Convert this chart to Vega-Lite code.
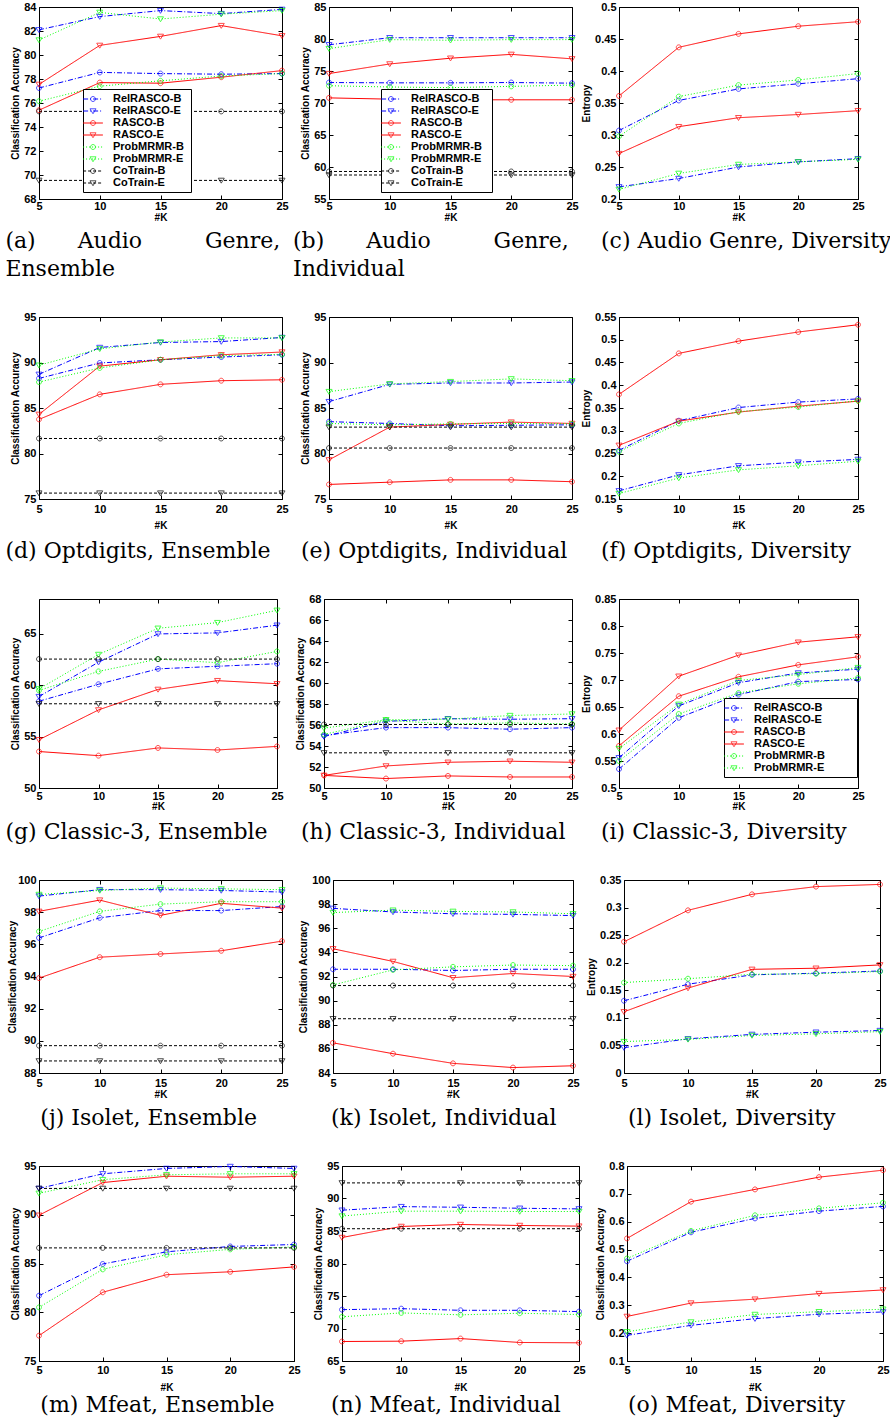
{
"$schema": "https://vega.github.io/schema/vega-lite/v6.json",
"background": "white",
"padding": {"left": 0, "top": 0, "right": 0, "bottom": 0},
"spacing": 29,
"resolve": {"scale": {"color": "independent", "strokeDash": "independent", "stroke": "independent", "shape": "independent"}, "legend": {"color": "independent", "strokeDash": "independent", "stroke": "independent", "shape": "independent"}},
"config": {
  "view": {"stroke": "black", "strokeWidth": 1},
  "axis": {"labelFont": "Liberation Sans", "labelFontWeight": "bold", "labelFontSize": 11, "labelColor": "black", "titleFont": "Liberation Sans", "titleFontWeight": "bold", "titleFontSize": 10, "titleColor": "black", "grid": false, "domain": false, "ticks": true, "tickColor": "black", "tickSize": -4, "tickWidth": 1, "labelFlush": false, "labelOverlap": false},
  "axisY": {"labelPadding": 7, "titlePadding": 3},
  "legend": {"padding": 4, "labelFont": "Liberation Sans", "labelFontWeight": "bold", "labelFontSize": 11, "labelColor": "black", "symbolSize": 121, "symbolStrokeWidth": 1, "rowPadding": 1, "labelOffset": 14, "labelLimit": 300},
  "title": {"font": "DejaVu Serif", "fontSize": 22, "fontWeight": "normal", "color": "black", "lineHeight": 28, "baseline": "top"}
},
"vconcat": [
{"hconcat": [
 {"width": 243, "height": 192, "data": {"name": "a"},
  "title": {"text": ["\u200b\u2009(a)\u00a0\u00a0\u00a0\u00a0\u00a0\u00a0Audio\u00a0\u00a0\u00a0\u00a0\u00a0\u00a0\u00a0\u00a0\u00a0Genre,", "\u200b\u2009Ensemble"], "orient": "bottom", "anchor": "start", "frame": "group", "offset": 8.6, "dx": -38},
  "layer": [
   {"mark": {"type": "line", "strokeWidth": 1},
    "encoding": {
     "x": {"field": "K", "type": "quantitative", "scale": {"domain": [5, 25], "nice": false}, "axis": {"values": [5, 10, 15, 20, 25], "title": "#K", "labelPadding": 5, "titlePadding": 1}},
     "y": {"field": "value", "type": "quantitative", "scale": {"domain": [68, 84], "nice": false, "zero": false}, "axis": {"values": [68, 70, 72, 74, 76, 78, 80, 82, 84], "format": "~r", "title": "Classification Accuracy"}},
     "color": {"field": "series", "type": "nominal", "scale": {"domain": ["RelRASCO-B", "RelRASCO-E", "RASCO-B", "RASCO-E", "ProbMRMR-B", "ProbMRMR-E", "CoTrain-B", "CoTrain-E"], "range": ["#0000ff", "#0000ff", "#ff0000", "#ff0000", "#00ff00", "#00ff00", "#000000", "#000000"]},
       "legend": {"title": null, "orient": "none", "legendX": 44, "legendY": 82, "symbolType": "M-1.8,0L1.8,0", "strokeColor": "black", "fillColor": "white", "labelExpr": "datum.label + '\u00a0\u200b'"}},
     "strokeDash": {"field": "series", "type": "nominal", "scale": {"domain": ["RelRASCO-B", "RelRASCO-E", "RASCO-B", "RASCO-E", "ProbMRMR-B", "ProbMRMR-E", "CoTrain-B", "CoTrain-E"], "range": [[5, 2, 1, 2], [5, 2, 1, 2], [1, 0], [1, 0], [1, 2], [1, 2], [3, 2], [3, 2]]},
       "legend": {"title": null, "orient": "none", "legendX": 44, "legendY": 82, "symbolType": "M-1.8,0L1.8,0", "strokeColor": "black", "fillColor": "white", "labelExpr": "datum.label + '\u00a0\u200b'"}}
    }},
   {"mark": {"type": "point", "filled": false, "strokeWidth": 1, "size": 121},
    "encoding": {
     "x": {"field": "K", "type": "quantitative", "axis": {"orient": "top", "values": [5, 10, 15, 20, 25], "labels": false, "title": null}},
     "y": {"field": "value", "type": "quantitative", "axis": {"orient": "right", "values": [68, 70, 72, 74, 76, 78, 80, 82, 84], "labels": false, "title": null}},
     "stroke": {"field": "series", "type": "nominal", "scale": {"domain": ["RelRASCO-B", "RelRASCO-E", "RASCO-B", "RASCO-E", "ProbMRMR-B", "ProbMRMR-E", "CoTrain-B", "CoTrain-E", " "], "range": ["#0000ff", "#0000ff", "#ff0000", "#ff0000", "#00ff00", "#00ff00", "#000000", "#000000", "transparent"]},
       "legend": {"title": null, "orient": "none", "legendX": 44, "legendY": 82, "labelExpr": "''", "strokeColor": "transparent", "fillColor": "transparent"}},
     "shape": {"field": "series", "type": "nominal", "scale": {"domain": ["RelRASCO-B", "RelRASCO-E", "RASCO-B", "RASCO-E", "ProbMRMR-B", "ProbMRMR-E", "CoTrain-B", "CoTrain-E", " "], "range": ["M0.45,0A0.45,0.45,0,1,1,-0.45,0A0.45,0.45,0,1,1,0.45,0", "M-0.55,-0.4L0.55,-0.4L0,0.5Z", "M0.45,0A0.45,0.45,0,1,1,-0.45,0A0.45,0.45,0,1,1,0.45,0", "M-0.55,-0.4L0.55,-0.4L0,0.5Z", "M0.45,0A0.45,0.45,0,1,1,-0.45,0A0.45,0.45,0,1,1,0.45,0", "M-0.55,-0.4L0.55,-0.4L0,0.5Z", "M0.45,0A0.45,0.45,0,1,1,-0.45,0A0.45,0.45,0,1,1,0.45,0", "M-0.55,-0.4L0.55,-0.4L0,0.5Z", "M0,0"]},
       "legend": {"title": null, "orient": "none", "legendX": 44, "legendY": 82, "labelExpr": "''", "strokeColor": "transparent", "fillColor": "transparent"}}
    }}
  ],
  "resolve": {"axis": {"x": "independent", "y": "independent"}}
 },
 {"width": 243, "height": 192, "data": {"name": "b"},
  "title": {"text": ["(b)\u00a0\u00a0\u00a0\u00a0\u00a0\u00a0Audio\u00a0\u00a0\u00a0\u00a0\u00a0\u00a0\u00a0\u00a0\u00a0Genre,", "Individual"], "orient": "bottom", "anchor": "start", "frame": "group", "offset": 8.6, "dx": -36},
  "layer": [
   {"mark": {"type": "line", "strokeWidth": 1},
    "encoding": {
     "x": {"field": "K", "type": "quantitative", "scale": {"domain": [5, 25], "nice": false}, "axis": {"values": [5, 10, 15, 20, 25], "title": "#K", "labelPadding": 5, "titlePadding": 1}},
     "y": {"field": "value", "type": "quantitative", "scale": {"domain": [55, 85], "nice": false, "zero": false}, "axis": {"values": [55, 60, 65, 70, 75, 80, 85], "format": "~r", "title": "Classification Accuracy"}},
     "color": {"field": "series", "type": "nominal", "scale": {"domain": ["RelRASCO-B", "RelRASCO-E", "RASCO-B", "RASCO-E", "ProbMRMR-B", "ProbMRMR-E", "CoTrain-B", "CoTrain-E"], "range": ["#0000ff", "#0000ff", "#ff0000", "#ff0000", "#00ff00", "#00ff00", "#000000", "#000000"]},
       "legend": {"title": null, "orient": "none", "legendX": 52, "legendY": 82, "symbolType": "M-1.8,0L1.8,0", "strokeColor": "black", "fillColor": "white", "labelExpr": "datum.label + '\u00a0\u00a0\u200b'"}},
     "strokeDash": {"field": "series", "type": "nominal", "scale": {"domain": ["RelRASCO-B", "RelRASCO-E", "RASCO-B", "RASCO-E", "ProbMRMR-B", "ProbMRMR-E", "CoTrain-B", "CoTrain-E"], "range": [[5, 2, 1, 2], [5, 2, 1, 2], [1, 0], [1, 0], [1, 2], [1, 2], [3, 2], [3, 2]]},
       "legend": {"title": null, "orient": "none", "legendX": 52, "legendY": 82, "symbolType": "M-1.8,0L1.8,0", "strokeColor": "black", "fillColor": "white", "labelExpr": "datum.label + '\u00a0\u00a0\u200b'"}}
    }},
   {"mark": {"type": "point", "filled": false, "strokeWidth": 1, "size": 121},
    "encoding": {
     "x": {"field": "K", "type": "quantitative", "axis": {"orient": "top", "values": [5, 10, 15, 20, 25], "labels": false, "title": null}},
     "y": {"field": "value", "type": "quantitative", "axis": {"orient": "right", "values": [55, 60, 65, 70, 75, 80, 85], "labels": false, "title": null}},
     "stroke": {"field": "series", "type": "nominal", "scale": {"domain": ["RelRASCO-B", "RelRASCO-E", "RASCO-B", "RASCO-E", "ProbMRMR-B", "ProbMRMR-E", "CoTrain-B", "CoTrain-E", " "], "range": ["#0000ff", "#0000ff", "#ff0000", "#ff0000", "#00ff00", "#00ff00", "#000000", "#000000", "transparent"]},
       "legend": {"title": null, "orient": "none", "legendX": 52, "legendY": 82, "labelExpr": "''", "strokeColor": "transparent", "fillColor": "transparent"}},
     "shape": {"field": "series", "type": "nominal", "scale": {"domain": ["RelRASCO-B", "RelRASCO-E", "RASCO-B", "RASCO-E", "ProbMRMR-B", "ProbMRMR-E", "CoTrain-B", "CoTrain-E", " "], "range": ["M0.45,0A0.45,0.45,0,1,1,-0.45,0A0.45,0.45,0,1,1,0.45,0", "M-0.55,-0.4L0.55,-0.4L0,0.5Z", "M0.45,0A0.45,0.45,0,1,1,-0.45,0A0.45,0.45,0,1,1,0.45,0", "M-0.55,-0.4L0.55,-0.4L0,0.5Z", "M0.45,0A0.45,0.45,0,1,1,-0.45,0A0.45,0.45,0,1,1,0.45,0", "M-0.55,-0.4L0.55,-0.4L0,0.5Z", "M0.45,0A0.45,0.45,0,1,1,-0.45,0A0.45,0.45,0,1,1,0.45,0", "M-0.55,-0.4L0.55,-0.4L0,0.5Z", "M0,0"]},
       "legend": {"title": null, "orient": "none", "legendX": 52, "legendY": 82, "labelExpr": "''", "strokeColor": "transparent", "fillColor": "transparent"}}
    }}
  ],
  "resolve": {"axis": {"x": "independent", "y": "independent"}}
 },
 {"width": 239, "height": 192, "data": {"name": "c"},
  "title": {"text": "(c) Audio Genre, Diversity", "orient": "bottom", "anchor": "start", "frame": "group", "offset": 8.6, "dx": -18},
  "layer": [
   {"mark": {"type": "line", "strokeWidth": 1},
    "encoding": {
     "x": {"field": "K", "type": "quantitative", "scale": {"domain": [5, 25], "nice": false}, "axis": {"values": [5, 10, 15, 20, 25], "title": "#K", "labelPadding": 5, "titlePadding": 1}},
     "y": {"field": "value", "type": "quantitative", "scale": {"domain": [0.2, 0.5], "nice": false, "zero": false}, "axis": {"values": [0.2, 0.25, 0.3, 0.35, 0.4, 0.45, 0.5], "format": "~r", "title": "Entropy"}},
     "color": {"field": "series", "type": "nominal", "scale": {"domain": ["RelRASCO-B", "RelRASCO-E", "RASCO-B", "RASCO-E", "ProbMRMR-B", "ProbMRMR-E"], "range": ["#0000ff", "#0000ff", "#ff0000", "#ff0000", "#00ff00", "#00ff00"]}, "legend": null},
     "strokeDash": {"field": "series", "type": "nominal", "scale": {"domain": ["RelRASCO-B", "RelRASCO-E", "RASCO-B", "RASCO-E", "ProbMRMR-B", "ProbMRMR-E"], "range": [[5, 2, 1, 2], [5, 2, 1, 2], [1, 0], [1, 0], [1, 2], [1, 2]]}, "legend": null}
    }},
   {"mark": {"type": "point", "filled": false, "strokeWidth": 1, "size": 121},
    "encoding": {
     "x": {"field": "K", "type": "quantitative", "axis": {"orient": "top", "values": [5, 10, 15, 20, 25], "labels": false, "title": null}},
     "y": {"field": "value", "type": "quantitative", "axis": {"orient": "right", "values": [0.2, 0.25, 0.3, 0.35, 0.4, 0.45, 0.5], "labels": false, "title": null}},
     "stroke": {"field": "series", "type": "nominal", "scale": {"domain": ["RelRASCO-B", "RelRASCO-E", "RASCO-B", "RASCO-E", "ProbMRMR-B", "ProbMRMR-E"], "range": ["#0000ff", "#0000ff", "#ff0000", "#ff0000", "#00ff00", "#00ff00"]}, "legend": null},
     "shape": {"field": "series", "type": "nominal", "scale": {"domain": ["RelRASCO-B", "RelRASCO-E", "RASCO-B", "RASCO-E", "ProbMRMR-B", "ProbMRMR-E"], "range": ["M0.45,0A0.45,0.45,0,1,1,-0.45,0A0.45,0.45,0,1,1,0.45,0", "M-0.55,-0.4L0.55,-0.4L0,0.5Z", "M0.45,0A0.45,0.45,0,1,1,-0.45,0A0.45,0.45,0,1,1,0.45,0", "M-0.55,-0.4L0.55,-0.4L0,0.5Z", "M0.45,0A0.45,0.45,0,1,1,-0.45,0A0.45,0.45,0,1,1,0.45,0", "M-0.55,-0.4L0.55,-0.4L0,0.5Z"]}, "legend": null}
    }}
  ],
  "resolve": {"axis": {"x": "independent", "y": "independent"}}
 }
], "spacing": 47, "bounds": "flush",
 "resolve": {"scale": {"color": "independent", "strokeDash": "independent", "stroke": "independent", "shape": "independent"}, "legend": {"color": "independent", "strokeDash": "independent", "stroke": "independent", "shape": "independent"}}},

{"hconcat": [
 {"width": 243, "height": 182, "data": {"name": "d"},
  "title": {"text": "\u200b\u2009(d) Optdigits, Ensemble", "orient": "bottom", "anchor": "start", "frame": "group", "offset": 10.6, "dx": -38},
  "layer": [
   {"mark": {"type": "line", "strokeWidth": 1},
    "encoding": {
     "x": {"field": "K", "type": "quantitative", "scale": {"domain": [5, 25], "nice": false}, "axis": {"values": [5, 10, 15, 20, 25], "title": "#K", "labelPadding": 8.5, "titlePadding": 5.5}},
     "y": {"field": "value", "type": "quantitative", "scale": {"domain": [75, 95], "nice": false, "zero": false}, "axis": {"values": [75, 80, 85, 90, 95], "format": "~r", "title": "Classification Accuracy"}},
     "color": {"field": "series", "type": "nominal", "scale": {"domain": ["RelRASCO-B", "RelRASCO-E", "RASCO-B", "RASCO-E", "ProbMRMR-B", "ProbMRMR-E", "CoTrain-B", "CoTrain-E"], "range": ["#0000ff", "#0000ff", "#ff0000", "#ff0000", "#00ff00", "#00ff00", "#000000", "#000000"]}, "legend": null},
     "strokeDash": {"field": "series", "type": "nominal", "scale": {"domain": ["RelRASCO-B", "RelRASCO-E", "RASCO-B", "RASCO-E", "ProbMRMR-B", "ProbMRMR-E", "CoTrain-B", "CoTrain-E"], "range": [[5, 2, 1, 2], [5, 2, 1, 2], [1, 0], [1, 0], [1, 2], [1, 2], [3, 2], [3, 2]]}, "legend": null}
    }},
   {"mark": {"type": "point", "filled": false, "strokeWidth": 1, "size": 121},
    "encoding": {
     "x": {"field": "K", "type": "quantitative", "axis": {"orient": "top", "values": [5, 10, 15, 20, 25], "labels": false, "title": null}},
     "y": {"field": "value", "type": "quantitative", "axis": {"orient": "right", "values": [75, 80, 85, 90, 95], "labels": false, "title": null}},
     "stroke": {"field": "series", "type": "nominal", "scale": {"domain": ["RelRASCO-B", "RelRASCO-E", "RASCO-B", "RASCO-E", "ProbMRMR-B", "ProbMRMR-E", "CoTrain-B", "CoTrain-E"], "range": ["#0000ff", "#0000ff", "#ff0000", "#ff0000", "#00ff00", "#00ff00", "#000000", "#000000"]}, "legend": null},
     "shape": {"field": "series", "type": "nominal", "scale": {"domain": ["RelRASCO-B", "RelRASCO-E", "RASCO-B", "RASCO-E", "ProbMRMR-B", "ProbMRMR-E", "CoTrain-B", "CoTrain-E"], "range": ["M0.45,0A0.45,0.45,0,1,1,-0.45,0A0.45,0.45,0,1,1,0.45,0", "M-0.55,-0.4L0.55,-0.4L0,0.5Z", "M0.45,0A0.45,0.45,0,1,1,-0.45,0A0.45,0.45,0,1,1,0.45,0", "M-0.55,-0.4L0.55,-0.4L0,0.5Z", "M0.45,0A0.45,0.45,0,1,1,-0.45,0A0.45,0.45,0,1,1,0.45,0", "M-0.55,-0.4L0.55,-0.4L0,0.5Z", "M0.45,0A0.45,0.45,0,1,1,-0.45,0A0.45,0.45,0,1,1,0.45,0", "M-0.55,-0.4L0.55,-0.4L0,0.5Z"]}, "legend": null}
    }}
  ],
  "resolve": {"axis": {"x": "independent", "y": "independent"}}
 },
 {"width": 243, "height": 182, "data": {"name": "e"},
  "title": {"text": "(e) Optdigits, Individual", "orient": "bottom", "anchor": "start", "frame": "group", "offset": 10.6, "dx": -28},
  "layer": [
   {"mark": {"type": "line", "strokeWidth": 1},
    "encoding": {
     "x": {"field": "K", "type": "quantitative", "scale": {"domain": [5, 25], "nice": false}, "axis": {"values": [5, 10, 15, 20, 25], "title": "#K", "labelPadding": 8.5, "titlePadding": 5.5}},
     "y": {"field": "value", "type": "quantitative", "scale": {"domain": [75, 95], "nice": false, "zero": false}, "axis": {"values": [75, 80, 85, 90, 95], "format": "~r", "title": "Classification Accuracy"}},
     "color": {"field": "series", "type": "nominal", "scale": {"domain": ["RelRASCO-B", "RelRASCO-E", "RASCO-B", "RASCO-E", "ProbMRMR-B", "ProbMRMR-E", "CoTrain-B", "CoTrain-E"], "range": ["#0000ff", "#0000ff", "#ff0000", "#ff0000", "#00ff00", "#00ff00", "#000000", "#000000"]}, "legend": null},
     "strokeDash": {"field": "series", "type": "nominal", "scale": {"domain": ["RelRASCO-B", "RelRASCO-E", "RASCO-B", "RASCO-E", "ProbMRMR-B", "ProbMRMR-E", "CoTrain-B", "CoTrain-E"], "range": [[5, 2, 1, 2], [5, 2, 1, 2], [1, 0], [1, 0], [1, 2], [1, 2], [3, 2], [3, 2]]}, "legend": null}
    }},
   {"mark": {"type": "point", "filled": false, "strokeWidth": 1, "size": 121},
    "encoding": {
     "x": {"field": "K", "type": "quantitative", "axis": {"orient": "top", "values": [5, 10, 15, 20, 25], "labels": false, "title": null}},
     "y": {"field": "value", "type": "quantitative", "axis": {"orient": "right", "values": [75, 80, 85, 90, 95], "labels": false, "title": null}},
     "stroke": {"field": "series", "type": "nominal", "scale": {"domain": ["RelRASCO-B", "RelRASCO-E", "RASCO-B", "RASCO-E", "ProbMRMR-B", "ProbMRMR-E", "CoTrain-B", "CoTrain-E"], "range": ["#0000ff", "#0000ff", "#ff0000", "#ff0000", "#00ff00", "#00ff00", "#000000", "#000000"]}, "legend": null},
     "shape": {"field": "series", "type": "nominal", "scale": {"domain": ["RelRASCO-B", "RelRASCO-E", "RASCO-B", "RASCO-E", "ProbMRMR-B", "ProbMRMR-E", "CoTrain-B", "CoTrain-E"], "range": ["M0.45,0A0.45,0.45,0,1,1,-0.45,0A0.45,0.45,0,1,1,0.45,0", "M-0.55,-0.4L0.55,-0.4L0,0.5Z", "M0.45,0A0.45,0.45,0,1,1,-0.45,0A0.45,0.45,0,1,1,0.45,0", "M-0.55,-0.4L0.55,-0.4L0,0.5Z", "M0.45,0A0.45,0.45,0,1,1,-0.45,0A0.45,0.45,0,1,1,0.45,0", "M-0.55,-0.4L0.55,-0.4L0,0.5Z", "M0.45,0A0.45,0.45,0,1,1,-0.45,0A0.45,0.45,0,1,1,0.45,0", "M-0.55,-0.4L0.55,-0.4L0,0.5Z"]}, "legend": null}
    }}
  ],
  "resolve": {"axis": {"x": "independent", "y": "independent"}}
 },
 {"width": 239, "height": 182, "data": {"name": "f"},
  "title": {"text": "(f) Optdigits, Diversity", "orient": "bottom", "anchor": "start", "frame": "group", "offset": 10.6, "dx": -18},
  "layer": [
   {"mark": {"type": "line", "strokeWidth": 1},
    "encoding": {
     "x": {"field": "K", "type": "quantitative", "scale": {"domain": [5, 25], "nice": false}, "axis": {"values": [5, 10, 15, 20, 25], "title": "#K", "labelPadding": 8.5, "titlePadding": 5.5}},
     "y": {"field": "value", "type": "quantitative", "scale": {"domain": [0.15, 0.55], "nice": false, "zero": false}, "axis": {"values": [0.15, 0.2, 0.25, 0.3, 0.35, 0.4, 0.45, 0.5, 0.55], "format": "~r", "title": "Entropy"}},
     "color": {"field": "series", "type": "nominal", "scale": {"domain": ["RelRASCO-B", "RelRASCO-E", "RASCO-B", "RASCO-E", "ProbMRMR-B", "ProbMRMR-E"], "range": ["#0000ff", "#0000ff", "#ff0000", "#ff0000", "#00ff00", "#00ff00"]}, "legend": null},
     "strokeDash": {"field": "series", "type": "nominal", "scale": {"domain": ["RelRASCO-B", "RelRASCO-E", "RASCO-B", "RASCO-E", "ProbMRMR-B", "ProbMRMR-E"], "range": [[5, 2, 1, 2], [5, 2, 1, 2], [1, 0], [1, 0], [1, 2], [1, 2]]}, "legend": null}
    }},
   {"mark": {"type": "point", "filled": false, "strokeWidth": 1, "size": 121},
    "encoding": {
     "x": {"field": "K", "type": "quantitative", "axis": {"orient": "top", "values": [5, 10, 15, 20, 25], "labels": false, "title": null}},
     "y": {"field": "value", "type": "quantitative", "axis": {"orient": "right", "values": [0.15, 0.2, 0.25, 0.3, 0.35, 0.4, 0.45, 0.5, 0.55], "labels": false, "title": null}},
     "stroke": {"field": "series", "type": "nominal", "scale": {"domain": ["RelRASCO-B", "RelRASCO-E", "RASCO-B", "RASCO-E", "ProbMRMR-B", "ProbMRMR-E"], "range": ["#0000ff", "#0000ff", "#ff0000", "#ff0000", "#00ff00", "#00ff00"]}, "legend": null},
     "shape": {"field": "series", "type": "nominal", "scale": {"domain": ["RelRASCO-B", "RelRASCO-E", "RASCO-B", "RASCO-E", "ProbMRMR-B", "ProbMRMR-E"], "range": ["M0.45,0A0.45,0.45,0,1,1,-0.45,0A0.45,0.45,0,1,1,0.45,0", "M-0.55,-0.4L0.55,-0.4L0,0.5Z", "M0.45,0A0.45,0.45,0,1,1,-0.45,0A0.45,0.45,0,1,1,0.45,0", "M-0.55,-0.4L0.55,-0.4L0,0.5Z", "M0.45,0A0.45,0.45,0,1,1,-0.45,0A0.45,0.45,0,1,1,0.45,0", "M-0.55,-0.4L0.55,-0.4L0,0.5Z"]}, "legend": null}
    }}
  ],
  "resolve": {"axis": {"x": "independent", "y": "independent"}}
 }
], "spacing": 47, "bounds": "flush",
 "resolve": {"scale": {"color": "independent", "strokeDash": "independent", "stroke": "independent", "shape": "independent"}, "legend": {"color": "independent", "strokeDash": "independent", "stroke": "independent", "shape": "independent"}}},

{"hconcat": [
 {"width": 238, "height": 189, "data": {"name": "g"},
  "title": {"text": "\u200b\u2009(g) Classic-3, Ensemble", "orient": "bottom", "anchor": "start", "frame": "group", "offset": 10.1, "dx": -38},
  "layer": [
   {"mark": {"type": "line", "strokeWidth": 1},
    "encoding": {
     "x": {"field": "K", "type": "quantitative", "scale": {"domain": [5, 25], "nice": false}, "axis": {"values": [5, 10, 15, 20, 25], "title": "#K", "labelPadding": 6.5, "titlePadding": 0}},
     "y": {"field": "value", "type": "quantitative", "scale": {"domain": [50, 68.4], "nice": false, "zero": false}, "axis": {"values": [50, 55, 60, 65], "format": "~r", "title": "Classification Accuracy"}},
     "color": {"field": "series", "type": "nominal", "scale": {"domain": ["RelRASCO-B", "RelRASCO-E", "RASCO-B", "RASCO-E", "ProbMRMR-B", "ProbMRMR-E", "CoTrain-B", "CoTrain-E"], "range": ["#0000ff", "#0000ff", "#ff0000", "#ff0000", "#00ff00", "#00ff00", "#000000", "#000000"]}, "legend": null},
     "strokeDash": {"field": "series", "type": "nominal", "scale": {"domain": ["RelRASCO-B", "RelRASCO-E", "RASCO-B", "RASCO-E", "ProbMRMR-B", "ProbMRMR-E", "CoTrain-B", "CoTrain-E"], "range": [[5, 2, 1, 2], [5, 2, 1, 2], [1, 0], [1, 0], [1, 2], [1, 2], [3, 2], [3, 2]]}, "legend": null}
    }},
   {"mark": {"type": "point", "filled": false, "strokeWidth": 1, "size": 121},
    "encoding": {
     "x": {"field": "K", "type": "quantitative", "axis": {"orient": "top", "values": [5, 10, 15, 20, 25], "labels": false, "title": null}},
     "y": {"field": "value", "type": "quantitative", "axis": {"orient": "right", "values": [50, 55, 60, 65], "labels": false, "title": null}},
     "stroke": {"field": "series", "type": "nominal", "scale": {"domain": ["RelRASCO-B", "RelRASCO-E", "RASCO-B", "RASCO-E", "ProbMRMR-B", "ProbMRMR-E", "CoTrain-B", "CoTrain-E"], "range": ["#0000ff", "#0000ff", "#ff0000", "#ff0000", "#00ff00", "#00ff00", "#000000", "#000000"]}, "legend": null},
     "shape": {"field": "series", "type": "nominal", "scale": {"domain": ["RelRASCO-B", "RelRASCO-E", "RASCO-B", "RASCO-E", "ProbMRMR-B", "ProbMRMR-E", "CoTrain-B", "CoTrain-E"], "range": ["M0.45,0A0.45,0.45,0,1,1,-0.45,0A0.45,0.45,0,1,1,0.45,0", "M-0.55,-0.4L0.55,-0.4L0,0.5Z", "M0.45,0A0.45,0.45,0,1,1,-0.45,0A0.45,0.45,0,1,1,0.45,0", "M-0.55,-0.4L0.55,-0.4L0,0.5Z", "M0.45,0A0.45,0.45,0,1,1,-0.45,0A0.45,0.45,0,1,1,0.45,0", "M-0.55,-0.4L0.55,-0.4L0,0.5Z", "M0.45,0A0.45,0.45,0,1,1,-0.45,0A0.45,0.45,0,1,1,0.45,0", "M-0.55,-0.4L0.55,-0.4L0,0.5Z"]}, "legend": null}
    }}
  ],
  "resolve": {"axis": {"x": "independent", "y": "independent"}}
 },
 {"width": 248, "height": 189, "data": {"name": "h"},
  "title": {"text": "(h) Classic-3, Individual", "orient": "bottom", "anchor": "start", "frame": "group", "offset": 10.1, "dx": -23},
  "layer": [
   {"mark": {"type": "line", "strokeWidth": 1},
    "encoding": {
     "x": {"field": "K", "type": "quantitative", "scale": {"domain": [5, 25], "nice": false}, "axis": {"values": [5, 10, 15, 20, 25], "title": "#K", "labelPadding": 6.5, "titlePadding": 0}},
     "y": {"field": "value", "type": "quantitative", "scale": {"domain": [50, 68], "nice": false, "zero": false}, "axis": {"values": [50, 52, 54, 56, 58, 60, 62, 64, 66, 68], "format": "~r", "title": "Classification Accuracy"}},
     "color": {"field": "series", "type": "nominal", "scale": {"domain": ["RelRASCO-B", "RelRASCO-E", "RASCO-B", "RASCO-E", "ProbMRMR-B", "ProbMRMR-E", "CoTrain-B", "CoTrain-E"], "range": ["#0000ff", "#0000ff", "#ff0000", "#ff0000", "#00ff00", "#00ff00", "#000000", "#000000"]}, "legend": null},
     "strokeDash": {"field": "series", "type": "nominal", "scale": {"domain": ["RelRASCO-B", "RelRASCO-E", "RASCO-B", "RASCO-E", "ProbMRMR-B", "ProbMRMR-E", "CoTrain-B", "CoTrain-E"], "range": [[5, 2, 1, 2], [5, 2, 1, 2], [1, 0], [1, 0], [1, 2], [1, 2], [3, 2], [3, 2]]}, "legend": null}
    }},
   {"mark": {"type": "point", "filled": false, "strokeWidth": 1, "size": 121},
    "encoding": {
     "x": {"field": "K", "type": "quantitative", "axis": {"orient": "top", "values": [5, 10, 15, 20, 25], "labels": false, "title": null}},
     "y": {"field": "value", "type": "quantitative", "axis": {"orient": "right", "values": [50, 52, 54, 56, 58, 60, 62, 64, 66, 68], "labels": false, "title": null}},
     "stroke": {"field": "series", "type": "nominal", "scale": {"domain": ["RelRASCO-B", "RelRASCO-E", "RASCO-B", "RASCO-E", "ProbMRMR-B", "ProbMRMR-E", "CoTrain-B", "CoTrain-E"], "range": ["#0000ff", "#0000ff", "#ff0000", "#ff0000", "#00ff00", "#00ff00", "#000000", "#000000"]}, "legend": null},
     "shape": {"field": "series", "type": "nominal", "scale": {"domain": ["RelRASCO-B", "RelRASCO-E", "RASCO-B", "RASCO-E", "ProbMRMR-B", "ProbMRMR-E", "CoTrain-B", "CoTrain-E"], "range": ["M0.45,0A0.45,0.45,0,1,1,-0.45,0A0.45,0.45,0,1,1,0.45,0", "M-0.55,-0.4L0.55,-0.4L0,0.5Z", "M0.45,0A0.45,0.45,0,1,1,-0.45,0A0.45,0.45,0,1,1,0.45,0", "M-0.55,-0.4L0.55,-0.4L0,0.5Z", "M0.45,0A0.45,0.45,0,1,1,-0.45,0A0.45,0.45,0,1,1,0.45,0", "M-0.55,-0.4L0.55,-0.4L0,0.5Z", "M0.45,0A0.45,0.45,0,1,1,-0.45,0A0.45,0.45,0,1,1,0.45,0", "M-0.55,-0.4L0.55,-0.4L0,0.5Z"]}, "legend": null}
    }}
  ],
  "resolve": {"axis": {"x": "independent", "y": "independent"}}
 },
 {"width": 239, "height": 189, "data": {"name": "i"},
  "title": {"text": "(i) Classic-3, Diversity", "orient": "bottom", "anchor": "start", "frame": "group", "offset": 10.1, "dx": -18},
  "layer": [
   {"mark": {"type": "line", "strokeWidth": 1},
    "encoding": {
     "x": {"field": "K", "type": "quantitative", "scale": {"domain": [5, 25], "nice": false}, "axis": {"values": [5, 10, 15, 20, 25], "title": "#K", "labelPadding": 6.5, "titlePadding": 0}},
     "y": {"field": "value", "type": "quantitative", "scale": {"domain": [0.5, 0.85], "nice": false, "zero": false}, "axis": {"values": [0.5, 0.55, 0.6, 0.65, 0.7, 0.75, 0.8, 0.85], "format": "~r", "title": "Entropy"}},
     "color": {"field": "series", "type": "nominal", "scale": {"domain": ["RelRASCO-B", "RelRASCO-E", "RASCO-B", "RASCO-E", "ProbMRMR-B", "ProbMRMR-E"], "range": ["#0000ff", "#0000ff", "#ff0000", "#ff0000", "#00ff00", "#00ff00"]},
       "legend": {"title": null, "orient": "none", "legendX": 105, "legendY": 99, "symbolType": "M-1.8,0L1.8,0", "strokeColor": "black", "fillColor": "white", "labelExpr": "datum.label + '\u00a0\u00a0\u00a0\u00a0\u00a0\u00a0\u00a0\u00a0\u00a0\u200b'"}},
     "strokeDash": {"field": "series", "type": "nominal", "scale": {"domain": ["RelRASCO-B", "RelRASCO-E", "RASCO-B", "RASCO-E", "ProbMRMR-B", "ProbMRMR-E"], "range": [[5, 2, 1, 2], [5, 2, 1, 2], [1, 0], [1, 0], [1, 2], [1, 2]]},
       "legend": {"title": null, "orient": "none", "legendX": 105, "legendY": 99, "symbolType": "M-1.8,0L1.8,0", "strokeColor": "black", "fillColor": "white", "labelExpr": "datum.label + '\u00a0\u00a0\u00a0\u00a0\u00a0\u00a0\u00a0\u00a0\u00a0\u200b'"}}
    }},
   {"mark": {"type": "point", "filled": false, "strokeWidth": 1, "size": 121},
    "encoding": {
     "x": {"field": "K", "type": "quantitative", "axis": {"orient": "top", "values": [5, 10, 15, 20, 25], "labels": false, "title": null}},
     "y": {"field": "value", "type": "quantitative", "axis": {"orient": "right", "values": [0.5, 0.55, 0.6, 0.65, 0.7, 0.75, 0.8, 0.85], "labels": false, "title": null}},
     "stroke": {"field": "series", "type": "nominal", "scale": {"domain": ["RelRASCO-B", "RelRASCO-E", "RASCO-B", "RASCO-E", "ProbMRMR-B", "ProbMRMR-E", " "], "range": ["#0000ff", "#0000ff", "#ff0000", "#ff0000", "#00ff00", "#00ff00", "transparent"]},
       "legend": {"title": null, "orient": "none", "legendX": 105, "legendY": 99, "labelExpr": "''", "strokeColor": "transparent", "fillColor": "transparent"}},
     "shape": {"field": "series", "type": "nominal", "scale": {"domain": ["RelRASCO-B", "RelRASCO-E", "RASCO-B", "RASCO-E", "ProbMRMR-B", "ProbMRMR-E", " "], "range": ["M0.45,0A0.45,0.45,0,1,1,-0.45,0A0.45,0.45,0,1,1,0.45,0", "M-0.55,-0.4L0.55,-0.4L0,0.5Z", "M0.45,0A0.45,0.45,0,1,1,-0.45,0A0.45,0.45,0,1,1,0.45,0", "M-0.55,-0.4L0.55,-0.4L0,0.5Z", "M0.45,0A0.45,0.45,0,1,1,-0.45,0A0.45,0.45,0,1,1,0.45,0", "M-0.55,-0.4L0.55,-0.4L0,0.5Z", "M0,0"]},
       "legend": {"title": null, "orient": "none", "legendX": 105, "legendY": 99, "labelExpr": "''", "strokeColor": "transparent", "fillColor": "transparent"}}
    }}
  ],
  "resolve": {"axis": {"x": "independent", "y": "independent"}}
 }
], "spacing": 47, "bounds": "flush",
 "resolve": {"scale": {"color": "independent", "strokeDash": "independent", "stroke": "independent", "shape": "independent"}, "legend": {"color": "independent", "strokeDash": "independent", "stroke": "independent", "shape": "independent"}}},

{"hconcat": [
 {"width": 243, "height": 193, "data": {"name": "j"},
  "title": {"text": "\u200b\u00a0\u00a0\u00a0\u00a0\u00a0\u2009(j) Isolet, Ensemble", "orient": "bottom", "anchor": "start", "frame": "group", "offset": 8.6, "dx": -38},
  "layer": [
   {"mark": {"type": "line", "strokeWidth": 1},
    "encoding": {
     "x": {"field": "K", "type": "quantitative", "scale": {"domain": [5, 25], "nice": false}, "axis": {"values": [5, 10, 15, 20, 25], "title": "#K", "labelPadding": 8.5, "titlePadding": 0.5}},
     "y": {"field": "value", "type": "quantitative", "scale": {"domain": [88, 100], "nice": false, "zero": false}, "axis": {"values": [88, 90, 92, 94, 96, 98, 100], "format": "~r", "title": "Classification Accuracy", "titlePadding": 0}},
     "color": {"field": "series", "type": "nominal", "scale": {"domain": ["RelRASCO-B", "RelRASCO-E", "RASCO-B", "RASCO-E", "ProbMRMR-B", "ProbMRMR-E", "CoTrain-B", "CoTrain-E"], "range": ["#0000ff", "#0000ff", "#ff0000", "#ff0000", "#00ff00", "#00ff00", "#000000", "#000000"]}, "legend": null},
     "strokeDash": {"field": "series", "type": "nominal", "scale": {"domain": ["RelRASCO-B", "RelRASCO-E", "RASCO-B", "RASCO-E", "ProbMRMR-B", "ProbMRMR-E", "CoTrain-B", "CoTrain-E"], "range": [[5, 2, 1, 2], [5, 2, 1, 2], [1, 0], [1, 0], [1, 2], [1, 2], [3, 2], [3, 2]]}, "legend": null}
    }},
   {"mark": {"type": "point", "filled": false, "strokeWidth": 1, "size": 121},
    "encoding": {
     "x": {"field": "K", "type": "quantitative", "axis": {"orient": "top", "values": [5, 10, 15, 20, 25], "labels": false, "title": null}},
     "y": {"field": "value", "type": "quantitative", "axis": {"orient": "right", "values": [88, 90, 92, 94, 96, 98, 100], "labels": false, "title": null}},
     "stroke": {"field": "series", "type": "nominal", "scale": {"domain": ["RelRASCO-B", "RelRASCO-E", "RASCO-B", "RASCO-E", "ProbMRMR-B", "ProbMRMR-E", "CoTrain-B", "CoTrain-E"], "range": ["#0000ff", "#0000ff", "#ff0000", "#ff0000", "#00ff00", "#00ff00", "#000000", "#000000"]}, "legend": null},
     "shape": {"field": "series", "type": "nominal", "scale": {"domain": ["RelRASCO-B", "RelRASCO-E", "RASCO-B", "RASCO-E", "ProbMRMR-B", "ProbMRMR-E", "CoTrain-B", "CoTrain-E"], "range": ["M0.45,0A0.45,0.45,0,1,1,-0.45,0A0.45,0.45,0,1,1,0.45,0", "M-0.55,-0.4L0.55,-0.4L0,0.5Z", "M0.45,0A0.45,0.45,0,1,1,-0.45,0A0.45,0.45,0,1,1,0.45,0", "M-0.55,-0.4L0.55,-0.4L0,0.5Z", "M0.45,0A0.45,0.45,0,1,1,-0.45,0A0.45,0.45,0,1,1,0.45,0", "M-0.55,-0.4L0.55,-0.4L0,0.5Z", "M0.45,0A0.45,0.45,0,1,1,-0.45,0A0.45,0.45,0,1,1,0.45,0", "M-0.55,-0.4L0.55,-0.4L0,0.5Z"]}, "legend": null}
    }}
  ],
  "resolve": {"axis": {"x": "independent", "y": "independent"}}
 },
 {"width": 240, "height": 193, "data": {"name": "k"},
  "title": {"text": "(k) Isolet, Individual", "orient": "bottom", "anchor": "start", "frame": "group", "offset": 8.6, "dx": -2},
  "layer": [
   {"mark": {"type": "line", "strokeWidth": 1},
    "encoding": {
     "x": {"field": "K", "type": "quantitative", "scale": {"domain": [5, 25], "nice": false}, "axis": {"values": [5, 10, 15, 20, 25], "title": "#K", "labelPadding": 8.5, "titlePadding": 0.5}},
     "y": {"field": "value", "type": "quantitative", "scale": {"domain": [84, 100], "nice": false, "zero": false}, "axis": {"values": [84, 86, 88, 90, 92, 94, 96, 98, 100], "format": "~r", "title": "Classification Accuracy"}},
     "color": {"field": "series", "type": "nominal", "scale": {"domain": ["RelRASCO-B", "RelRASCO-E", "RASCO-B", "RASCO-E", "ProbMRMR-B", "ProbMRMR-E", "CoTrain-B", "CoTrain-E"], "range": ["#0000ff", "#0000ff", "#ff0000", "#ff0000", "#00ff00", "#00ff00", "#000000", "#000000"]}, "legend": null},
     "strokeDash": {"field": "series", "type": "nominal", "scale": {"domain": ["RelRASCO-B", "RelRASCO-E", "RASCO-B", "RASCO-E", "ProbMRMR-B", "ProbMRMR-E", "CoTrain-B", "CoTrain-E"], "range": [[5, 2, 1, 2], [5, 2, 1, 2], [1, 0], [1, 0], [1, 2], [1, 2], [3, 2], [3, 2]]}, "legend": null}
    }},
   {"mark": {"type": "point", "filled": false, "strokeWidth": 1, "size": 121},
    "encoding": {
     "x": {"field": "K", "type": "quantitative", "axis": {"orient": "top", "values": [5, 10, 15, 20, 25], "labels": false, "title": null}},
     "y": {"field": "value", "type": "quantitative", "axis": {"orient": "right", "values": [84, 86, 88, 90, 92, 94, 96, 98, 100], "labels": false, "title": null}},
     "stroke": {"field": "series", "type": "nominal", "scale": {"domain": ["RelRASCO-B", "RelRASCO-E", "RASCO-B", "RASCO-E", "ProbMRMR-B", "ProbMRMR-E", "CoTrain-B", "CoTrain-E"], "range": ["#0000ff", "#0000ff", "#ff0000", "#ff0000", "#00ff00", "#00ff00", "#000000", "#000000"]}, "legend": null},
     "shape": {"field": "series", "type": "nominal", "scale": {"domain": ["RelRASCO-B", "RelRASCO-E", "RASCO-B", "RASCO-E", "ProbMRMR-B", "ProbMRMR-E", "CoTrain-B", "CoTrain-E"], "range": ["M0.45,0A0.45,0.45,0,1,1,-0.45,0A0.45,0.45,0,1,1,0.45,0", "M-0.55,-0.4L0.55,-0.4L0,0.5Z", "M0.45,0A0.45,0.45,0,1,1,-0.45,0A0.45,0.45,0,1,1,0.45,0", "M-0.55,-0.4L0.55,-0.4L0,0.5Z", "M0.45,0A0.45,0.45,0,1,1,-0.45,0A0.45,0.45,0,1,1,0.45,0", "M-0.55,-0.4L0.55,-0.4L0,0.5Z", "M0.45,0A0.45,0.45,0,1,1,-0.45,0A0.45,0.45,0,1,1,0.45,0", "M-0.55,-0.4L0.55,-0.4L0,0.5Z"]}, "legend": null}
    }}
  ],
  "resolve": {"axis": {"x": "independent", "y": "independent"}}
 },
 {"width": 256, "height": 193, "data": {"name": "l"},
  "title": {"text": "(l) Isolet, Diversity", "orient": "bottom", "anchor": "start", "frame": "group", "offset": 8.6, "dx": 4},
  "layer": [
   {"mark": {"type": "line", "strokeWidth": 1},
    "encoding": {
     "x": {"field": "K", "type": "quantitative", "scale": {"domain": [5, 25], "nice": false}, "axis": {"values": [5, 10, 15, 20, 25], "title": "#K", "labelPadding": 8.5, "titlePadding": 0.5}},
     "y": {"field": "value", "type": "quantitative", "scale": {"domain": [0, 0.35], "nice": false, "zero": false}, "axis": {"values": [0, 0.05, 0.1, 0.15, 0.2, 0.25, 0.3, 0.35], "format": "~r", "title": "Entropy"}},
     "color": {"field": "series", "type": "nominal", "scale": {"domain": ["RelRASCO-B", "RelRASCO-E", "RASCO-B", "RASCO-E", "ProbMRMR-B", "ProbMRMR-E"], "range": ["#0000ff", "#0000ff", "#ff0000", "#ff0000", "#00ff00", "#00ff00"]}, "legend": null},
     "strokeDash": {"field": "series", "type": "nominal", "scale": {"domain": ["RelRASCO-B", "RelRASCO-E", "RASCO-B", "RASCO-E", "ProbMRMR-B", "ProbMRMR-E"], "range": [[5, 2, 1, 2], [5, 2, 1, 2], [1, 0], [1, 0], [1, 2], [1, 2]]}, "legend": null}
    }},
   {"mark": {"type": "point", "filled": false, "strokeWidth": 1, "size": 121},
    "encoding": {
     "x": {"field": "K", "type": "quantitative", "axis": {"orient": "top", "values": [5, 10, 15, 20, 25], "labels": false, "title": null}},
     "y": {"field": "value", "type": "quantitative", "axis": {"orient": "right", "values": [0, 0.05, 0.1, 0.15, 0.2, 0.25, 0.3, 0.35], "labels": false, "title": null}},
     "stroke": {"field": "series", "type": "nominal", "scale": {"domain": ["RelRASCO-B", "RelRASCO-E", "RASCO-B", "RASCO-E", "ProbMRMR-B", "ProbMRMR-E"], "range": ["#0000ff", "#0000ff", "#ff0000", "#ff0000", "#00ff00", "#00ff00"]}, "legend": null},
     "shape": {"field": "series", "type": "nominal", "scale": {"domain": ["RelRASCO-B", "RelRASCO-E", "RASCO-B", "RASCO-E", "ProbMRMR-B", "ProbMRMR-E"], "range": ["M0.45,0A0.45,0.45,0,1,1,-0.45,0A0.45,0.45,0,1,1,0.45,0", "M-0.55,-0.4L0.55,-0.4L0,0.5Z", "M0.45,0A0.45,0.45,0,1,1,-0.45,0A0.45,0.45,0,1,1,0.45,0", "M-0.55,-0.4L0.55,-0.4L0,0.5Z", "M0.45,0A0.45,0.45,0,1,1,-0.45,0A0.45,0.45,0,1,1,0.45,0", "M-0.55,-0.4L0.55,-0.4L0,0.5Z"]}, "legend": null}
    }}
  ],
  "resolve": {"axis": {"x": "independent", "y": "independent"}}
 }
], "spacing": 51, "bounds": "flush",
 "resolve": {"scale": {"color": "independent", "strokeDash": "independent", "stroke": "independent", "shape": "independent"}, "legend": {"color": "independent", "strokeDash": "independent", "stroke": "independent", "shape": "independent"}}},

{"hconcat": [
 {"width": 255, "height": 195, "data": {"name": "m"},
  "title": {"text": "\u200b\u00a0\u00a0\u00a0\u00a0\u00a0\u2009(m) Mfeat, Ensemble", "orient": "bottom", "anchor": "start", "frame": "group", "offset": 2.6, "dx": -38},
  "layer": [
   {"mark": {"type": "line", "strokeWidth": 1},
    "encoding": {
     "x": {"field": "K", "type": "quantitative", "scale": {"domain": [5, 25], "nice": false}, "axis": {"values": [5, 10, 15, 20, 25], "title": "#K", "labelPadding": 7.5, "titlePadding": 6.5}},
     "y": {"field": "value", "type": "quantitative", "scale": {"domain": [75, 95], "nice": false, "zero": false}, "axis": {"values": [75, 80, 85, 90, 95], "format": "~r", "title": "Classification Accuracy"}},
     "color": {"field": "series", "type": "nominal", "scale": {"domain": ["RelRASCO-B", "RelRASCO-E", "RASCO-B", "RASCO-E", "ProbMRMR-B", "ProbMRMR-E", "CoTrain-B", "CoTrain-E"], "range": ["#0000ff", "#0000ff", "#ff0000", "#ff0000", "#00ff00", "#00ff00", "#000000", "#000000"]}, "legend": null},
     "strokeDash": {"field": "series", "type": "nominal", "scale": {"domain": ["RelRASCO-B", "RelRASCO-E", "RASCO-B", "RASCO-E", "ProbMRMR-B", "ProbMRMR-E", "CoTrain-B", "CoTrain-E"], "range": [[5, 2, 1, 2], [5, 2, 1, 2], [1, 0], [1, 0], [1, 2], [1, 2], [3, 2], [3, 2]]}, "legend": null}
    }},
   {"mark": {"type": "point", "filled": false, "strokeWidth": 1, "size": 121},
    "encoding": {
     "x": {"field": "K", "type": "quantitative", "axis": {"orient": "top", "values": [5, 10, 15, 20, 25], "labels": false, "title": null}},
     "y": {"field": "value", "type": "quantitative", "axis": {"orient": "right", "values": [75, 80, 85, 90, 95], "labels": false, "title": null}},
     "stroke": {"field": "series", "type": "nominal", "scale": {"domain": ["RelRASCO-B", "RelRASCO-E", "RASCO-B", "RASCO-E", "ProbMRMR-B", "ProbMRMR-E", "CoTrain-B", "CoTrain-E"], "range": ["#0000ff", "#0000ff", "#ff0000", "#ff0000", "#00ff00", "#00ff00", "#000000", "#000000"]}, "legend": null},
     "shape": {"field": "series", "type": "nominal", "scale": {"domain": ["RelRASCO-B", "RelRASCO-E", "RASCO-B", "RASCO-E", "ProbMRMR-B", "ProbMRMR-E", "CoTrain-B", "CoTrain-E"], "range": ["M0.45,0A0.45,0.45,0,1,1,-0.45,0A0.45,0.45,0,1,1,0.45,0", "M-0.55,-0.4L0.55,-0.4L0,0.5Z", "M0.45,0A0.45,0.45,0,1,1,-0.45,0A0.45,0.45,0,1,1,0.45,0", "M-0.55,-0.4L0.55,-0.4L0,0.5Z", "M0.45,0A0.45,0.45,0,1,1,-0.45,0A0.45,0.45,0,1,1,0.45,0", "M-0.55,-0.4L0.55,-0.4L0,0.5Z", "M0.45,0A0.45,0.45,0,1,1,-0.45,0A0.45,0.45,0,1,1,0.45,0", "M-0.55,-0.4L0.55,-0.4L0,0.5Z"]}, "legend": null}
    }}
  ],
  "resolve": {"axis": {"x": "independent", "y": "independent"}}
 },
 {"width": 237, "height": 195, "data": {"name": "n"},
  "title": {"text": "(n) Mfeat, Individual", "orient": "bottom", "anchor": "start", "frame": "group", "offset": 2.6, "dx": -11},
  "layer": [
   {"mark": {"type": "line", "strokeWidth": 1},
    "encoding": {
     "x": {"field": "K", "type": "quantitative", "scale": {"domain": [5, 25], "nice": false}, "axis": {"values": [5, 10, 15, 20, 25], "title": "#K", "labelPadding": 7.5, "titlePadding": 6.5}},
     "y": {"field": "value", "type": "quantitative", "scale": {"domain": [65, 95], "nice": false, "zero": false}, "axis": {"values": [65, 70, 75, 80, 85, 90, 95], "format": "~r", "title": "Classification Accuracy"}},
     "color": {"field": "series", "type": "nominal", "scale": {"domain": ["RelRASCO-B", "RelRASCO-E", "RASCO-B", "RASCO-E", "ProbMRMR-B", "ProbMRMR-E", "CoTrain-B", "CoTrain-E"], "range": ["#0000ff", "#0000ff", "#ff0000", "#ff0000", "#00ff00", "#00ff00", "#000000", "#000000"]}, "legend": null},
     "strokeDash": {"field": "series", "type": "nominal", "scale": {"domain": ["RelRASCO-B", "RelRASCO-E", "RASCO-B", "RASCO-E", "ProbMRMR-B", "ProbMRMR-E", "CoTrain-B", "CoTrain-E"], "range": [[5, 2, 1, 2], [5, 2, 1, 2], [1, 0], [1, 0], [1, 2], [1, 2], [3, 2], [3, 2]]}, "legend": null}
    }},
   {"mark": {"type": "point", "filled": false, "strokeWidth": 1, "size": 121},
    "encoding": {
     "x": {"field": "K", "type": "quantitative", "axis": {"orient": "top", "values": [5, 10, 15, 20, 25], "labels": false, "title": null}},
     "y": {"field": "value", "type": "quantitative", "axis": {"orient": "right", "values": [65, 70, 75, 80, 85, 90, 95], "labels": false, "title": null}},
     "stroke": {"field": "series", "type": "nominal", "scale": {"domain": ["RelRASCO-B", "RelRASCO-E", "RASCO-B", "RASCO-E", "ProbMRMR-B", "ProbMRMR-E", "CoTrain-B", "CoTrain-E"], "range": ["#0000ff", "#0000ff", "#ff0000", "#ff0000", "#00ff00", "#00ff00", "#000000", "#000000"]}, "legend": null},
     "shape": {"field": "series", "type": "nominal", "scale": {"domain": ["RelRASCO-B", "RelRASCO-E", "RASCO-B", "RASCO-E", "ProbMRMR-B", "ProbMRMR-E", "CoTrain-B", "CoTrain-E"], "range": ["M0.45,0A0.45,0.45,0,1,1,-0.45,0A0.45,0.45,0,1,1,0.45,0", "M-0.55,-0.4L0.55,-0.4L0,0.5Z", "M0.45,0A0.45,0.45,0,1,1,-0.45,0A0.45,0.45,0,1,1,0.45,0", "M-0.55,-0.4L0.55,-0.4L0,0.5Z", "M0.45,0A0.45,0.45,0,1,1,-0.45,0A0.45,0.45,0,1,1,0.45,0", "M-0.55,-0.4L0.55,-0.4L0,0.5Z", "M0.45,0A0.45,0.45,0,1,1,-0.45,0A0.45,0.45,0,1,1,0.45,0", "M-0.55,-0.4L0.55,-0.4L0,0.5Z"]}, "legend": null}
    }}
  ],
  "resolve": {"axis": {"x": "independent", "y": "independent"}}
 },
 {"width": 256, "height": 195, "data": {"name": "o"},
  "title": {"text": "(o) Mfeat, Diversity", "orient": "bottom", "anchor": "start", "frame": "group", "offset": 2.6, "dx": 1},
  "layer": [
   {"mark": {"type": "line", "strokeWidth": 1},
    "encoding": {
     "x": {"field": "K", "type": "quantitative", "scale": {"domain": [5, 25], "nice": false}, "axis": {"values": [5, 10, 15, 20, 25], "title": "#K", "labelPadding": 7.5, "titlePadding": 6.5}},
     "y": {"field": "value", "type": "quantitative", "scale": {"domain": [0.1, 0.8], "nice": false, "zero": false}, "axis": {"values": [0.1, 0.2, 0.3, 0.4, 0.5, 0.6, 0.7, 0.8], "format": "~r", "title": "Classification Accuracy"}},
     "color": {"field": "series", "type": "nominal", "scale": {"domain": ["RelRASCO-B", "RelRASCO-E", "RASCO-B", "RASCO-E", "ProbMRMR-B", "ProbMRMR-E"], "range": ["#0000ff", "#0000ff", "#ff0000", "#ff0000", "#00ff00", "#00ff00"]}, "legend": null},
     "strokeDash": {"field": "series", "type": "nominal", "scale": {"domain": ["RelRASCO-B", "RelRASCO-E", "RASCO-B", "RASCO-E", "ProbMRMR-B", "ProbMRMR-E"], "range": [[5, 2, 1, 2], [5, 2, 1, 2], [1, 0], [1, 0], [1, 2], [1, 2]]}, "legend": null}
    }},
   {"mark": {"type": "point", "filled": false, "strokeWidth": 1, "size": 121},
    "encoding": {
     "x": {"field": "K", "type": "quantitative", "axis": {"orient": "top", "values": [5, 10, 15, 20, 25], "labels": false, "title": null}},
     "y": {"field": "value", "type": "quantitative", "axis": {"orient": "right", "values": [0.1, 0.2, 0.3, 0.4, 0.5, 0.6, 0.7, 0.8], "labels": false, "title": null}},
     "stroke": {"field": "series", "type": "nominal", "scale": {"domain": ["RelRASCO-B", "RelRASCO-E", "RASCO-B", "RASCO-E", "ProbMRMR-B", "ProbMRMR-E"], "range": ["#0000ff", "#0000ff", "#ff0000", "#ff0000", "#00ff00", "#00ff00"]}, "legend": null},
     "shape": {"field": "series", "type": "nominal", "scale": {"domain": ["RelRASCO-B", "RelRASCO-E", "RASCO-B", "RASCO-E", "ProbMRMR-B", "ProbMRMR-E"], "range": ["M0.45,0A0.45,0.45,0,1,1,-0.45,0A0.45,0.45,0,1,1,0.45,0", "M-0.55,-0.4L0.55,-0.4L0,0.5Z", "M0.45,0A0.45,0.45,0,1,1,-0.45,0A0.45,0.45,0,1,1,0.45,0", "M-0.55,-0.4L0.55,-0.4L0,0.5Z", "M0.45,0A0.45,0.45,0,1,1,-0.45,0A0.45,0.45,0,1,1,0.45,0", "M-0.55,-0.4L0.55,-0.4L0,0.5Z"]}, "legend": null}
    }}
  ],
  "resolve": {"axis": {"x": "independent", "y": "independent"}}
 }
], "spacing": 48, "bounds": "flush",
 "resolve": {"scale": {"color": "independent", "strokeDash": "independent", "stroke": "independent", "shape": "independent"}, "legend": {"color": "independent", "strokeDash": "independent", "stroke": "independent", "shape": "independent"}}}
],
"datasets": {
"a": [
{"series":"RelRASCO-B","K":5,"value":77.25},{"series":"RelRASCO-B","K":10,"value":78.55},{"series":"RelRASCO-B","K":15,"value":78.45},{"series":"RelRASCO-B","K":20,"value":78.4},{"series":"RelRASCO-B","K":25,"value":78.45},
{"series":"RelRASCO-E","K":5,"value":82.1},{"series":"RelRASCO-E","K":10,"value":83.2},{"series":"RelRASCO-E","K":15,"value":83.7},{"series":"RelRASCO-E","K":20,"value":83.45},{"series":"RelRASCO-E","K":25,"value":83.8},
{"series":"RASCO-B","K":5,"value":75.4},{"series":"RASCO-B","K":10,"value":77.7},{"series":"RASCO-B","K":15,"value":77.65},{"series":"RASCO-B","K":20,"value":78.15},{"series":"RASCO-B","K":25,"value":78.7},
{"series":"RASCO-E","K":5,"value":77.55},{"series":"RASCO-E","K":10,"value":80.8},{"series":"RASCO-E","K":15,"value":81.55},{"series":"RASCO-E","K":20,"value":82.45},{"series":"RASCO-E","K":25,"value":81.6},
{"series":"ProbMRMR-B","K":5,"value":76.15},{"series":"ProbMRMR-B","K":10,"value":77.4},{"series":"ProbMRMR-B","K":15,"value":77.85},{"series":"ProbMRMR-B","K":20,"value":78.25},{"series":"ProbMRMR-B","K":25,"value":78.45},
{"series":"ProbMRMR-E","K":5,"value":81.25},{"series":"ProbMRMR-E","K":10,"value":83.55},{"series":"ProbMRMR-E","K":15,"value":83.0},{"series":"ProbMRMR-E","K":20,"value":83.4},{"series":"ProbMRMR-E","K":25,"value":83.7},
{"series":"CoTrain-B","K":5,"value":75.3},{"series":"CoTrain-B","K":10,"value":75.3},{"series":"CoTrain-B","K":15,"value":75.3},{"series":"CoTrain-B","K":20,"value":75.3},{"series":"CoTrain-B","K":25,"value":75.3},
{"series":"CoTrain-E","K":5,"value":69.55},{"series":"CoTrain-E","K":10,"value":69.55},{"series":"CoTrain-E","K":15,"value":69.55},{"series":"CoTrain-E","K":20,"value":69.55},{"series":"CoTrain-E","K":25,"value":69.55}
],
"b": [
{"series":"RelRASCO-B","K":5,"value":73.2},{"series":"RelRASCO-B","K":10,"value":73.15},{"series":"RelRASCO-B","K":15,"value":73.15},{"series":"RelRASCO-B","K":20,"value":73.2},{"series":"RelRASCO-B","K":25,"value":73.1},
{"series":"RelRASCO-E","K":5,"value":79.1},{"series":"RelRASCO-E","K":10,"value":80.2},{"series":"RelRASCO-E","K":15,"value":80.2},{"series":"RelRASCO-E","K":20,"value":80.2},{"series":"RelRASCO-E","K":25,"value":80.2},
{"series":"RASCO-B","K":5,"value":70.8},{"series":"RASCO-B","K":10,"value":70.6},{"series":"RASCO-B","K":15,"value":70.5},{"series":"RASCO-B","K":20,"value":70.5},{"series":"RASCO-B","K":25,"value":70.5},
{"series":"RASCO-E","K":5,"value":74.6},{"series":"RASCO-E","K":10,"value":76.1},{"series":"RASCO-E","K":15,"value":77.0},{"series":"RASCO-E","K":20,"value":77.6},{"series":"RASCO-E","K":25,"value":76.9},
{"series":"ProbMRMR-B","K":5,"value":72.7},{"series":"ProbMRMR-B","K":10,"value":72.5},{"series":"ProbMRMR-B","K":15,"value":72.4},{"series":"ProbMRMR-B","K":20,"value":72.6},{"series":"ProbMRMR-B","K":25,"value":72.8},
{"series":"ProbMRMR-E","K":5,"value":78.5},{"series":"ProbMRMR-E","K":10,"value":79.9},{"series":"ProbMRMR-E","K":15,"value":79.8},{"series":"ProbMRMR-E","K":20,"value":79.9},{"series":"ProbMRMR-E","K":25,"value":79.9},
{"series":"CoTrain-B","K":5,"value":59.3},{"series":"CoTrain-B","K":10,"value":59.3},{"series":"CoTrain-B","K":15,"value":59.3},{"series":"CoTrain-B","K":20,"value":59.3},{"series":"CoTrain-B","K":25,"value":59.3},
{"series":"CoTrain-E","K":5,"value":58.75},{"series":"CoTrain-E","K":10,"value":58.75},{"series":"CoTrain-E","K":15,"value":58.75},{"series":"CoTrain-E","K":20,"value":58.75},{"series":"CoTrain-E","K":25,"value":58.75}
],
"c": [
{"series":"RelRASCO-B","K":5,"value":0.307},{"series":"RelRASCO-B","K":10,"value":0.354},{"series":"RelRASCO-B","K":15,"value":0.372},{"series":"RelRASCO-B","K":20,"value":0.38},{"series":"RelRASCO-B","K":25,"value":0.388},
{"series":"RelRASCO-E","K":5,"value":0.219},{"series":"RelRASCO-E","K":10,"value":0.232},{"series":"RelRASCO-E","K":15,"value":0.25},{"series":"RelRASCO-E","K":20,"value":0.258},{"series":"RelRASCO-E","K":25,"value":0.263},
{"series":"RASCO-B","K":5,"value":0.361},{"series":"RASCO-B","K":10,"value":0.437},{"series":"RASCO-B","K":15,"value":0.458},{"series":"RASCO-B","K":20,"value":0.47},{"series":"RASCO-B","K":25,"value":0.477},
{"series":"RASCO-E","K":5,"value":0.271},{"series":"RASCO-E","K":10,"value":0.313},{"series":"RASCO-E","K":15,"value":0.327},{"series":"RASCO-E","K":20,"value":0.332},{"series":"RASCO-E","K":25,"value":0.338},
{"series":"ProbMRMR-B","K":5,"value":0.298},{"series":"ProbMRMR-B","K":10,"value":0.36},{"series":"ProbMRMR-B","K":15,"value":0.378},{"series":"ProbMRMR-B","K":20,"value":0.386},{"series":"ProbMRMR-B","K":25,"value":0.396},
{"series":"ProbMRMR-E","K":5,"value":0.215},{"series":"ProbMRMR-E","K":10,"value":0.24},{"series":"ProbMRMR-E","K":15,"value":0.254},{"series":"ProbMRMR-E","K":20,"value":0.258},{"series":"ProbMRMR-E","K":25,"value":0.262}
],
"d": [
{"series":"RelRASCO-B","K":5,"value":88.25},{"series":"RelRASCO-B","K":10,"value":89.95},{"series":"RelRASCO-B","K":15,"value":90.3},{"series":"RelRASCO-B","K":20,"value":90.6},{"series":"RelRASCO-B","K":25,"value":90.85},
{"series":"RelRASCO-E","K":5,"value":88.7},{"series":"RelRASCO-E","K":10,"value":91.65},{"series":"RelRASCO-E","K":15,"value":92.2},{"series":"RelRASCO-E","K":20,"value":92.3},{"series":"RelRASCO-E","K":25,"value":92.75},
{"series":"RASCO-B","K":5,"value":83.75},{"series":"RASCO-B","K":10,"value":86.5},{"series":"RASCO-B","K":15,"value":87.6},{"series":"RASCO-B","K":20,"value":88.0},{"series":"RASCO-B","K":25,"value":88.1},
{"series":"RASCO-E","K":5,"value":84.3},{"series":"RASCO-E","K":10,"value":89.6},{"series":"RASCO-E","K":15,"value":90.3},{"series":"RASCO-E","K":20,"value":90.85},{"series":"RASCO-E","K":25,"value":91.15},
{"series":"ProbMRMR-B","K":5,"value":87.85},{"series":"ProbMRMR-B","K":10,"value":89.4},{"series":"ProbMRMR-B","K":15,"value":90.3},{"series":"ProbMRMR-B","K":20,"value":90.75},{"series":"ProbMRMR-B","K":25,"value":90.9},
{"series":"ProbMRMR-E","K":5,"value":89.7},{"series":"ProbMRMR-E","K":10,"value":91.5},{"series":"ProbMRMR-E","K":15,"value":92.25},{"series":"ProbMRMR-E","K":20,"value":92.7},{"series":"ProbMRMR-E","K":25,"value":92.7},
{"series":"CoTrain-B","K":5,"value":81.65},{"series":"CoTrain-B","K":10,"value":81.65},{"series":"CoTrain-B","K":15,"value":81.65},{"series":"CoTrain-B","K":20,"value":81.65},{"series":"CoTrain-B","K":25,"value":81.65},
{"series":"CoTrain-E","K":5,"value":75.65},{"series":"CoTrain-E","K":10,"value":75.65},{"series":"CoTrain-E","K":15,"value":75.65},{"series":"CoTrain-E","K":20,"value":75.65},{"series":"CoTrain-E","K":25,"value":75.65}
],
"e": [
{"series":"RelRASCO-B","K":5,"value":83.5},{"series":"RelRASCO-B","K":10,"value":83.3},{"series":"RelRASCO-B","K":15,"value":83.05},{"series":"RelRASCO-B","K":20,"value":83.1},{"series":"RelRASCO-B","K":25,"value":83.15},
{"series":"RelRASCO-E","K":5,"value":85.7},{"series":"RelRASCO-E","K":10,"value":87.6},{"series":"RelRASCO-E","K":15,"value":87.75},{"series":"RelRASCO-E","K":20,"value":87.75},{"series":"RelRASCO-E","K":25,"value":87.85},
{"series":"RASCO-B","K":5,"value":76.6},{"series":"RASCO-B","K":10,"value":76.85},{"series":"RASCO-B","K":15,"value":77.1},{"series":"RASCO-B","K":20,"value":77.1},{"series":"RASCO-B","K":25,"value":76.9},
{"series":"RASCO-E","K":5,"value":79.3},{"series":"RASCO-E","K":10,"value":82.9},{"series":"RASCO-E","K":15,"value":83.2},{"series":"RASCO-E","K":20,"value":83.45},{"series":"RASCO-E","K":25,"value":83.3},
{"series":"ProbMRMR-B","K":5,"value":83.3},{"series":"ProbMRMR-B","K":10,"value":83.15},{"series":"ProbMRMR-B","K":15,"value":83.25},{"series":"ProbMRMR-B","K":20,"value":83.3},{"series":"ProbMRMR-B","K":25,"value":83.25},
{"series":"ProbMRMR-E","K":5,"value":86.8},{"series":"ProbMRMR-E","K":10,"value":87.65},{"series":"ProbMRMR-E","K":15,"value":87.9},{"series":"ProbMRMR-E","K":20,"value":88.2},{"series":"ProbMRMR-E","K":25,"value":88.0},
{"series":"CoTrain-B","K":5,"value":80.6},{"series":"CoTrain-B","K":10,"value":80.6},{"series":"CoTrain-B","K":15,"value":80.6},{"series":"CoTrain-B","K":20,"value":80.6},{"series":"CoTrain-B","K":25,"value":80.6},
{"series":"CoTrain-E","K":5,"value":82.9},{"series":"CoTrain-E","K":10,"value":82.9},{"series":"CoTrain-E","K":15,"value":82.9},{"series":"CoTrain-E","K":20,"value":82.9},{"series":"CoTrain-E","K":25,"value":82.9}
],
"f": [
{"series":"RelRASCO-B","K":5,"value":0.257},{"series":"RelRASCO-B","K":10,"value":0.322},{"series":"RelRASCO-B","K":15,"value":0.351},{"series":"RelRASCO-B","K":20,"value":0.363},{"series":"RelRASCO-B","K":25,"value":0.37},
{"series":"RelRASCO-E","K":5,"value":0.168},{"series":"RelRASCO-E","K":10,"value":0.203},{"series":"RelRASCO-E","K":15,"value":0.223},{"series":"RelRASCO-E","K":20,"value":0.231},{"series":"RelRASCO-E","K":25,"value":0.237},
{"series":"RASCO-B","K":5,"value":0.38},{"series":"RASCO-B","K":10,"value":0.47},{"series":"RASCO-B","K":15,"value":0.497},{"series":"RASCO-B","K":20,"value":0.517},{"series":"RASCO-B","K":25,"value":0.533},
{"series":"RASCO-E","K":5,"value":0.268},{"series":"RASCO-E","K":10,"value":0.321},{"series":"RASCO-E","K":15,"value":0.341},{"series":"RASCO-E","K":20,"value":0.354},{"series":"RASCO-E","K":25,"value":0.365},
{"series":"ProbMRMR-B","K":5,"value":0.254},{"series":"ProbMRMR-B","K":10,"value":0.316},{"series":"ProbMRMR-B","K":15,"value":0.342},{"series":"ProbMRMR-B","K":20,"value":0.352},{"series":"ProbMRMR-B","K":25,"value":0.366},
{"series":"ProbMRMR-E","K":5,"value":0.162},{"series":"ProbMRMR-E","K":10,"value":0.196},{"series":"ProbMRMR-E","K":15,"value":0.214},{"series":"ProbMRMR-E","K":20,"value":0.223},{"series":"ProbMRMR-E","K":25,"value":0.233}
],
"g": [
{"series":"RelRASCO-B","K":5,"value":58.45},{"series":"RelRASCO-B","K":10,"value":60.1},{"series":"RelRASCO-B","K":15,"value":61.6},{"series":"RelRASCO-B","K":20,"value":61.85},{"series":"RelRASCO-B","K":25,"value":62.1},
{"series":"RelRASCO-E","K":5,"value":58.9},{"series":"RelRASCO-E","K":10,"value":62.25},{"series":"RelRASCO-E","K":15,"value":65.0},{"series":"RelRASCO-E","K":20,"value":65.1},{"series":"RelRASCO-E","K":25,"value":65.85},
{"series":"RASCO-B","K":5,"value":53.55},{"series":"RASCO-B","K":10,"value":53.15},{"series":"RASCO-B","K":15,"value":53.9},{"series":"RASCO-B","K":20,"value":53.7},{"series":"RASCO-B","K":25,"value":54.05},
{"series":"RASCO-E","K":5,"value":54.7},{"series":"RASCO-E","K":10,"value":57.6},{"series":"RASCO-E","K":15,"value":59.6},{"series":"RASCO-E","K":20,"value":60.45},{"series":"RASCO-E","K":25,"value":60.15},
{"series":"ProbMRMR-B","K":5,"value":59.5},{"series":"ProbMRMR-B","K":10,"value":61.35},{"series":"ProbMRMR-B","K":15,"value":62.55},{"series":"ProbMRMR-B","K":20,"value":62.2},{"series":"ProbMRMR-B","K":25,"value":63.3},
{"series":"ProbMRMR-E","K":5,"value":59.65},{"series":"ProbMRMR-E","K":10,"value":63.0},{"series":"ProbMRMR-E","K":15,"value":65.55},{"series":"ProbMRMR-E","K":20,"value":66.1},{"series":"ProbMRMR-E","K":25,"value":67.3},
{"series":"CoTrain-B","K":5,"value":62.55},{"series":"CoTrain-B","K":10,"value":62.55},{"series":"CoTrain-B","K":15,"value":62.55},{"series":"CoTrain-B","K":20,"value":62.55},{"series":"CoTrain-B","K":25,"value":62.55},
{"series":"CoTrain-E","K":5,"value":58.2},{"series":"CoTrain-E","K":10,"value":58.2},{"series":"CoTrain-E","K":15,"value":58.2},{"series":"CoTrain-E","K":20,"value":58.2},{"series":"CoTrain-E","K":25,"value":58.2}
],
"h": [
{"series":"RelRASCO-B","K":5,"value":55.0},{"series":"RelRASCO-B","K":10,"value":55.75},{"series":"RelRASCO-B","K":15,"value":55.75},{"series":"RelRASCO-B","K":20,"value":55.6},{"series":"RelRASCO-B","K":25,"value":55.75},
{"series":"RelRASCO-E","K":5,"value":54.9},{"series":"RelRASCO-E","K":10,"value":56.35},{"series":"RelRASCO-E","K":15,"value":56.6},{"series":"RelRASCO-E","K":20,"value":56.55},{"series":"RelRASCO-E","K":25,"value":56.6},
{"series":"RASCO-B","K":5,"value":51.2},{"series":"RASCO-B","K":10,"value":50.9},{"series":"RASCO-B","K":15,"value":51.15},{"series":"RASCO-B","K":20,"value":51.05},{"series":"RASCO-B","K":25,"value":51.05},
{"series":"RASCO-E","K":5,"value":51.2},{"series":"RASCO-E","K":10,"value":52.1},{"series":"RASCO-E","K":15,"value":52.45},{"series":"RASCO-E","K":20,"value":52.55},{"series":"RASCO-E","K":25,"value":52.45},
{"series":"ProbMRMR-B","K":5,"value":55.1},{"series":"ProbMRMR-B","K":10,"value":56.45},{"series":"ProbMRMR-B","K":15,"value":56.1},{"series":"ProbMRMR-B","K":20,"value":56.2},{"series":"ProbMRMR-B","K":25,"value":56.1},
{"series":"ProbMRMR-E","K":5,"value":55.7},{"series":"ProbMRMR-E","K":10,"value":56.5},{"series":"ProbMRMR-E","K":15,"value":56.55},{"series":"ProbMRMR-E","K":20,"value":56.9},{"series":"ProbMRMR-E","K":25,"value":57.05},
{"series":"CoTrain-B","K":5,"value":56.05},{"series":"CoTrain-B","K":10,"value":56.05},{"series":"CoTrain-B","K":15,"value":56.05},{"series":"CoTrain-B","K":20,"value":56.05},{"series":"CoTrain-B","K":25,"value":56.05},
{"series":"CoTrain-E","K":5,"value":53.35},{"series":"CoTrain-E","K":10,"value":53.35},{"series":"CoTrain-E","K":15,"value":53.35},{"series":"CoTrain-E","K":20,"value":53.35},{"series":"CoTrain-E","K":25,"value":53.35}
],
"i": [
{"series":"RelRASCO-B","K":5,"value":0.535},{"series":"RelRASCO-B","K":10,"value":0.63},{"series":"RelRASCO-B","K":15,"value":0.673},{"series":"RelRASCO-B","K":20,"value":0.697},{"series":"RelRASCO-B","K":25,"value":0.701},
{"series":"RelRASCO-E","K":5,"value":0.556},{"series":"RelRASCO-E","K":10,"value":0.652},{"series":"RelRASCO-E","K":15,"value":0.695},{"series":"RelRASCO-E","K":20,"value":0.713},{"series":"RelRASCO-E","K":25,"value":0.72},
{"series":"RASCO-B","K":5,"value":0.578},{"series":"RASCO-B","K":10,"value":0.67},{"series":"RASCO-B","K":15,"value":0.706},{"series":"RASCO-B","K":20,"value":0.728},{"series":"RASCO-B","K":25,"value":0.743},
{"series":"RASCO-E","K":5,"value":0.607},{"series":"RASCO-E","K":10,"value":0.707},{"series":"RASCO-E","K":15,"value":0.746},{"series":"RASCO-E","K":20,"value":0.77},{"series":"RASCO-E","K":25,"value":0.78},
{"series":"ProbMRMR-B","K":5,"value":0.55},{"series":"ProbMRMR-B","K":10,"value":0.637},{"series":"ProbMRMR-B","K":15,"value":0.676},{"series":"ProbMRMR-B","K":20,"value":0.693},{"series":"ProbMRMR-B","K":25,"value":0.704},
{"series":"ProbMRMR-E","K":5,"value":0.573},{"series":"ProbMRMR-E","K":10,"value":0.655},{"series":"ProbMRMR-E","K":15,"value":0.699},{"series":"ProbMRMR-E","K":20,"value":0.71},{"series":"ProbMRMR-E","K":25,"value":0.723}
],
"j": [
{"series":"RelRASCO-B","K":5,"value":96.4},{"series":"RelRASCO-B","K":10,"value":97.65},{"series":"RelRASCO-B","K":15,"value":98.1},{"series":"RelRASCO-B","K":20,"value":98.1},{"series":"RelRASCO-B","K":25,"value":98.35},
{"series":"RelRASCO-E","K":5,"value":99.0},{"series":"RelRASCO-E","K":10,"value":99.4},{"series":"RelRASCO-E","K":15,"value":99.4},{"series":"RelRASCO-E","K":20,"value":99.35},{"series":"RelRASCO-E","K":25,"value":99.25},
{"series":"RASCO-B","K":5,"value":93.9},{"series":"RASCO-B","K":10,"value":95.2},{"series":"RASCO-B","K":15,"value":95.4},{"series":"RASCO-B","K":20,"value":95.6},{"series":"RASCO-B","K":25,"value":96.2},
{"series":"RASCO-E","K":5,"value":98.05},{"series":"RASCO-E","K":10,"value":98.75},{"series":"RASCO-E","K":15,"value":97.8},{"series":"RASCO-E","K":20,"value":98.55},{"series":"RASCO-E","K":25,"value":98.25},
{"series":"ProbMRMR-B","K":5,"value":96.8},{"series":"ProbMRMR-B","K":10,"value":98.05},{"series":"ProbMRMR-B","K":15,"value":98.5},{"series":"ProbMRMR-B","K":20,"value":98.65},{"series":"ProbMRMR-B","K":25,"value":98.65},
{"series":"ProbMRMR-E","K":5,"value":99.1},{"series":"ProbMRMR-E","K":10,"value":99.35},{"series":"ProbMRMR-E","K":15,"value":99.5},{"series":"ProbMRMR-E","K":20,"value":99.45},{"series":"ProbMRMR-E","K":25,"value":99.4},
{"series":"CoTrain-B","K":5,"value":89.7},{"series":"CoTrain-B","K":10,"value":89.7},{"series":"CoTrain-B","K":15,"value":89.7},{"series":"CoTrain-B","K":20,"value":89.7},{"series":"CoTrain-B","K":25,"value":89.7},
{"series":"CoTrain-E","K":5,"value":88.75},{"series":"CoTrain-E","K":10,"value":88.75},{"series":"CoTrain-E","K":15,"value":88.75},{"series":"CoTrain-E","K":20,"value":88.75},{"series":"CoTrain-E","K":25,"value":88.75}
],
"k": [
{"series":"RelRASCO-B","K":5,"value":92.6},{"series":"RelRASCO-B","K":10,"value":92.6},{"series":"RelRASCO-B","K":15,"value":92.5},{"series":"RelRASCO-B","K":20,"value":92.6},{"series":"RelRASCO-B","K":25,"value":92.6},
{"series":"RelRASCO-E","K":5,"value":97.65},{"series":"RelRASCO-E","K":10,"value":97.35},{"series":"RelRASCO-E","K":15,"value":97.2},{"series":"RelRASCO-E","K":20,"value":97.15},{"series":"RelRASCO-E","K":25,"value":97.05},
{"series":"RASCO-B","K":5,"value":86.5},{"series":"RASCO-B","K":10,"value":85.6},{"series":"RASCO-B","K":15,"value":84.8},{"series":"RASCO-B","K":20,"value":84.45},{"series":"RASCO-B","K":25,"value":84.6},
{"series":"RASCO-E","K":5,"value":94.3},{"series":"RASCO-E","K":10,"value":93.25},{"series":"RASCO-E","K":15,"value":91.9},{"series":"RASCO-E","K":20,"value":92.25},{"series":"RASCO-E","K":25,"value":92.0},
{"series":"ProbMRMR-B","K":5,"value":91.3},{"series":"ProbMRMR-B","K":10,"value":92.55},{"series":"ProbMRMR-B","K":15,"value":92.8},{"series":"ProbMRMR-B","K":20,"value":92.95},{"series":"ProbMRMR-B","K":25,"value":92.9},
{"series":"ProbMRMR-E","K":5,"value":97.3},{"series":"ProbMRMR-E","K":10,"value":97.5},{"series":"ProbMRMR-E","K":15,"value":97.4},{"series":"ProbMRMR-E","K":20,"value":97.35},{"series":"ProbMRMR-E","K":25,"value":97.2},
{"series":"CoTrain-B","K":5,"value":91.25},{"series":"CoTrain-B","K":10,"value":91.25},{"series":"CoTrain-B","K":15,"value":91.25},{"series":"CoTrain-B","K":20,"value":91.25},{"series":"CoTrain-B","K":25,"value":91.25},
{"series":"CoTrain-E","K":5,"value":88.5},{"series":"CoTrain-E","K":10,"value":88.5},{"series":"CoTrain-E","K":15,"value":88.5},{"series":"CoTrain-E","K":20,"value":88.5},{"series":"CoTrain-E","K":25,"value":88.5}
],
"l": [
{"series":"RelRASCO-B","K":5,"value":0.131},{"series":"RelRASCO-B","K":10,"value":0.161},{"series":"RelRASCO-B","K":15,"value":0.178},{"series":"RelRASCO-B","K":20,"value":0.181},{"series":"RelRASCO-B","K":25,"value":0.185},
{"series":"RelRASCO-E","K":5,"value":0.046},{"series":"RelRASCO-E","K":10,"value":0.062},{"series":"RelRASCO-E","K":15,"value":0.07},{"series":"RelRASCO-E","K":20,"value":0.074},{"series":"RelRASCO-E","K":25,"value":0.077},
{"series":"RASCO-B","K":5,"value":0.238},{"series":"RASCO-B","K":10,"value":0.295},{"series":"RASCO-B","K":15,"value":0.324},{"series":"RASCO-B","K":20,"value":0.338},{"series":"RASCO-B","K":25,"value":0.342},
{"series":"RASCO-E","K":5,"value":0.111},{"series":"RASCO-E","K":10,"value":0.154},{"series":"RASCO-E","K":15,"value":0.188},{"series":"RASCO-E","K":20,"value":0.19},{"series":"RASCO-E","K":25,"value":0.196},
{"series":"ProbMRMR-B","K":5,"value":0.164},{"series":"ProbMRMR-B","K":10,"value":0.171},{"series":"ProbMRMR-B","K":15,"value":0.179},{"series":"ProbMRMR-B","K":20,"value":0.18},{"series":"ProbMRMR-B","K":25,"value":0.184},
{"series":"ProbMRMR-E","K":5,"value":0.057},{"series":"ProbMRMR-E","K":10,"value":0.061},{"series":"ProbMRMR-E","K":15,"value":0.068},{"series":"ProbMRMR-E","K":20,"value":0.071},{"series":"ProbMRMR-E","K":25,"value":0.075}
],
"m": [
{"series":"RelRASCO-B","K":5,"value":81.7},{"series":"RelRASCO-B","K":10,"value":84.95},{"series":"RelRASCO-B","K":15,"value":86.2},{"series":"RelRASCO-B","K":20,"value":86.75},{"series":"RelRASCO-B","K":25,"value":86.95},
{"series":"RelRASCO-E","K":5,"value":92.7},{"series":"RelRASCO-E","K":10,"value":94.2},{"series":"RelRASCO-E","K":15,"value":94.75},{"series":"RelRASCO-E","K":20,"value":94.95},{"series":"RelRASCO-E","K":25,"value":94.75},
{"series":"RASCO-B","K":5,"value":77.6},{"series":"RASCO-B","K":10,"value":82.05},{"series":"RASCO-B","K":15,"value":83.85},{"series":"RASCO-B","K":20,"value":84.15},{"series":"RASCO-B","K":25,"value":84.65},
{"series":"RASCO-E","K":5,"value":89.95},{"series":"RASCO-E","K":10,"value":93.3},{"series":"RASCO-E","K":15,"value":93.95},{"series":"RASCO-E","K":20,"value":93.85},{"series":"RASCO-E","K":25,"value":93.95},
{"series":"ProbMRMR-B","K":5,"value":80.5},{"series":"ProbMRMR-B","K":10,"value":84.4},{"series":"ProbMRMR-B","K":15,"value":85.9},{"series":"ProbMRMR-B","K":20,"value":86.45},{"series":"ProbMRMR-B","K":25,"value":86.7},
{"series":"ProbMRMR-E","K":5,"value":92.2},{"series":"ProbMRMR-E","K":10,"value":93.6},{"series":"ProbMRMR-E","K":15,"value":94.1},{"series":"ProbMRMR-E","K":20,"value":94.2},{"series":"ProbMRMR-E","K":25,"value":94.2},
{"series":"CoTrain-B","K":5,"value":86.6},{"series":"CoTrain-B","K":10,"value":86.6},{"series":"CoTrain-B","K":15,"value":86.6},{"series":"CoTrain-B","K":20,"value":86.6},{"series":"CoTrain-B","K":25,"value":86.6},
{"series":"CoTrain-E","K":5,"value":92.7},{"series":"CoTrain-E","K":10,"value":92.7},{"series":"CoTrain-E","K":15,"value":92.7},{"series":"CoTrain-E","K":20,"value":92.7},{"series":"CoTrain-E","K":25,"value":92.7}
],
"n": [
{"series":"RelRASCO-B","K":5,"value":72.9},{"series":"RelRASCO-B","K":10,"value":73.05},{"series":"RelRASCO-B","K":15,"value":72.8},{"series":"RelRASCO-B","K":20,"value":72.8},{"series":"RelRASCO-B","K":25,"value":72.6},
{"series":"RelRASCO-E","K":5,"value":88.2},{"series":"RelRASCO-E","K":10,"value":88.75},{"series":"RelRASCO-E","K":15,"value":88.65},{"series":"RelRASCO-E","K":20,"value":88.5},{"series":"RelRASCO-E","K":25,"value":88.4},
{"series":"RASCO-B","K":5,"value":68.0},{"series":"RASCO-B","K":10,"value":68.05},{"series":"RASCO-B","K":15,"value":68.45},{"series":"RASCO-B","K":20,"value":67.85},{"series":"RASCO-B","K":25,"value":67.8},
{"series":"RASCO-E","K":5,"value":84.0},{"series":"RASCO-E","K":10,"value":85.7},{"series":"RASCO-E","K":15,"value":86.0},{"series":"RASCO-E","K":20,"value":85.85},{"series":"RASCO-E","K":25,"value":85.75},
{"series":"ProbMRMR-B","K":5,"value":71.8},{"series":"ProbMRMR-B","K":10,"value":72.4},{"series":"ProbMRMR-B","K":15,"value":72.1},{"series":"ProbMRMR-B","K":20,"value":72.35},{"series":"ProbMRMR-B","K":25,"value":72.15},
{"series":"ProbMRMR-E","K":5,"value":87.3},{"series":"ProbMRMR-E","K":10,"value":88.05},{"series":"ProbMRMR-E","K":15,"value":88.05},{"series":"ProbMRMR-E","K":20,"value":88.0},{"series":"ProbMRMR-E","K":25,"value":88.0},
{"series":"CoTrain-B","K":5,"value":85.35},{"series":"CoTrain-B","K":10,"value":85.35},{"series":"CoTrain-B","K":15,"value":85.35},{"series":"CoTrain-B","K":20,"value":85.35},{"series":"CoTrain-B","K":25,"value":85.35},
{"series":"CoTrain-E","K":5,"value":92.4},{"series":"CoTrain-E","K":10,"value":92.4},{"series":"CoTrain-E","K":15,"value":92.4},{"series":"CoTrain-E","K":20,"value":92.4},{"series":"CoTrain-E","K":25,"value":92.4}
],
"o": [
{"series":"RelRASCO-B","K":5,"value":0.458},{"series":"RelRASCO-B","K":10,"value":0.562},{"series":"RelRASCO-B","K":15,"value":0.612},{"series":"RelRASCO-B","K":20,"value":0.638},{"series":"RelRASCO-B","K":25,"value":0.655},
{"series":"RelRASCO-E","K":5,"value":0.192},{"series":"RelRASCO-E","K":10,"value":0.228},{"series":"RelRASCO-E","K":15,"value":0.252},{"series":"RelRASCO-E","K":20,"value":0.268},{"series":"RelRASCO-E","K":25,"value":0.276},
{"series":"RASCO-B","K":5,"value":0.54},{"series":"RASCO-B","K":10,"value":0.672},{"series":"RASCO-B","K":15,"value":0.716},{"series":"RASCO-B","K":20,"value":0.76},{"series":"RASCO-B","K":25,"value":0.785},
{"series":"RASCO-E","K":5,"value":0.26},{"series":"RASCO-E","K":10,"value":0.308},{"series":"RASCO-E","K":15,"value":0.322},{"series":"RASCO-E","K":20,"value":0.342},{"series":"RASCO-E","K":25,"value":0.355},
{"series":"ProbMRMR-B","K":5,"value":0.468},{"series":"ProbMRMR-B","K":10,"value":0.567},{"series":"ProbMRMR-B","K":15,"value":0.623},{"series":"ProbMRMR-B","K":20,"value":0.648},{"series":"ProbMRMR-B","K":25,"value":0.668},
{"series":"ProbMRMR-E","K":5,"value":0.205},{"series":"ProbMRMR-E","K":10,"value":0.24},{"series":"ProbMRMR-E","K":15,"value":0.267},{"series":"ProbMRMR-E","K":20,"value":0.277},{"series":"ProbMRMR-E","K":25,"value":0.286}
]
}
}
